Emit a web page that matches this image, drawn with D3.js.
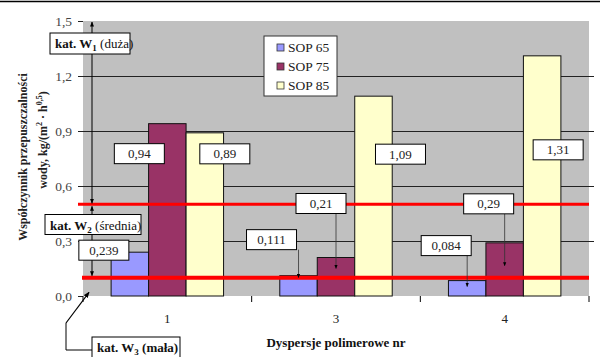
<!DOCTYPE html>
<html><head><meta charset="utf-8">
<script src="https://cdn.jsdelivr.net/npm/d3@7"></script>
<style>body{margin:0;background:#fff}svg{display:block}svg text{font-family:"Liberation Serif","Tinos","Times New Roman","DejaVu Serif",serif !important}</style>
</head><body><svg id="c" width="600" height="357"></svg>
<script>
const categories = ["1","3","4"];
const series = ["SOP 65","SOP 75","SOP 85"];
const sop65 = [0.239, 0.111, 0.084];
const sop75 = [0.94, 0.21, 0.29];
const sop85 = [0.89, 1.09, 1.31];
const labels65 = ["0,239","0,111","0,084"];
const labels75 = ["0,94","0,21","0,29"];
const labels85 = ["0,89","1,09","1,31"];
const yTicks = [0, 0.3, 0.6, 0.9, 1.2, 1.5];
const yTickLabels = ["0,0","0,3","0,6","0,9","1,2","1,5"];
const limits = [0.5, 0.1];
const colors = ["#9999FF","#993366","#FFFFCC"];

// label placement (offsets from bar top-centre, px) and arrow tip depth
const labelOffsets = [
  [[-26,-2,null],[-28,30,null],[20,21,null]],
  [[-27,-36,2],[-15,-54,11],[27,58,null]],
  [[-21,-35,6],[-16,-39,23],[16,94,null]]
];

const FONT = "'Liberation Serif','Tinos','Times New Roman','DejaVu Serif',serif";
const svg = d3.select("#c");
const L = 83, R = 589, T = 21, B = 296;
const x0 = d3.scaleBand().domain(categories).range([L,R]).padding(0);
const x1 = d3.scaleBand().domain(series).range([0,x0.bandwidth()]).paddingInner(0).paddingOuter(0.75);
const y = d3.scaleLinear().domain([0,1.5]).range([B,T]);

svg.append("line").attr("x1",0).attr("x2",600).attr("y1",1.5).attr("y2",1.5).attr("stroke","#000").attr("stroke-width",1.5);

const defs = svg.append("defs");
defs.append("marker").attr("id","ah").attr("viewBox","0 0 10 10").attr("refX",9).attr("refY",5)
  .attr("markerWidth",5).attr("markerHeight",5).attr("orient","auto-start-reverse")
  .append("path").attr("d","M0,1 L10,5 L0,9 z").attr("fill","#000");

svg.append("rect").attr("x",L).attr("y",T).attr("width",R-L).attr("height",B-T).attr("fill","#C0C0C0");

// gridlines / ticks
const yAxis = d3.axisLeft(y).tickValues(yTicks).tickFormat((d,i)=>yTickLabels[i]).tickSize(-(R-L+5)).tickPadding(6);
const ga = svg.append("g").attr("transform",`translate(${L-5},0)`).call(yAxis).attr("font-family",FONT);
ga.select(".domain").remove();
ga.selectAll(".tick line").attr("transform","translate(5,0)").attr("x1",-5).attr("stroke","#222");
ga.selectAll(".tick").filter(d=>d===0||d===1.5).select("line").attr("x2",0);
ga.selectAll(".tick text").attr("font-size",13.5).attr("fill","#444").attr("font-family",FONT);

// x ticks
const xt = [...categories.map(c=>x0(c)), R];
svg.selectAll(".xt").data(xt).enter().append("line").attr("x1",d=>d).attr("x2",d=>d).attr("y1",B).attr("y2",B+6).attr("stroke","#000");
svg.selectAll(".xl").data(categories).enter().append("text").attr("x",d=>x0(d)+x0.bandwidth()/2).attr("y",323)
  .attr("text-anchor","middle").attr("font-size",13).attr("fill","#222").attr("font-family",FONT).text(d=>d);
svg.append("text").attr("x",(L+R)/2).attr("y",347).attr("text-anchor","middle").attr("font-size",13).attr("font-weight","bold").attr("fill","#111").attr("font-family",FONT).text("Dyspersje polimerowe nr");

// bars
const vals = [sop65, sop75, sop85];
const labs = [labels65, labels75, labels85];
const bars = [];
categories.forEach((c,ci)=>{
  series.forEach((s,si)=>{
    bars.push({c,ci,s,si,v:vals[si][ci],lab:labs[si][ci]});
  });
});
svg.selectAll(".bar").data(bars).enter().append("rect")
  .attr("x",d=>x0(d.c)+x1(d.s)).attr("width",x1.bandwidth())
  .attr("y",d=>y(d.v)).attr("height",d=>B-y(d.v))
  .attr("fill",d=>colors[d.si]).attr("stroke","#111").attr("stroke-width",1);

// limit lines
svg.append("line").attr("x1",78).attr("x2",R).attr("y1",y(limits[0])).attr("y2",y(limits[0])).attr("stroke","#FF0000").attr("stroke-width",3);
svg.append("line").attr("x1",82).attr("x2",R).attr("y1",y(limits[1])).attr("y2",y(limits[1])).attr("stroke","#FF0000").attr("stroke-width",4);

// category arrows
const ax = 92;
svg.append("line").attr("x1",ax).attr("x2",ax).attr("y1",y(1.5)+1).attr("y2",y(limits[0])-1).attr("stroke","#000")
  .attr("marker-start","url(#ah)").attr("marker-end","url(#ah)");
svg.append("line").attr("x1",ax).attr("x2",ax).attr("y1",y(limits[0])+2).attr("y2",y(limits[1])-2).attr("stroke","#000")
  .attr("marker-start","url(#ah)").attr("marker-end","url(#ah)");
svg.append("line").attr("x1",66).attr("y1",323).attr("x2",89).attr("y2",y(0.02)).attr("stroke","#000").attr("stroke-width",1.2).attr("marker-end","url(#ah)");
svg.append("polyline").attr("points","66,323 66,350 92,350").attr("fill","none").attr("stroke","#000");

// data labels
bars.forEach(d=>{
  const off = labelOffsets[d.ci][d.si];
  const bx = x0(d.c)+x1(d.s)+x1.bandwidth()/2;
  const by = y(d.v);
  const cx = bx+off[0], cy = by+off[1];
  const w = 50, h = 20;
  if(off[2]!==null){
    svg.append("line").attr("x1",bx).attr("x2",bx).attr("y1",cy+h/2).attr("y2",by+off[2]).attr("stroke","#333").attr("stroke-width",0.8).attr("marker-end","url(#ah)");
  }
  svg.append("rect").attr("x",cx-w/2).attr("y",cy-h/2).attr("width",w).attr("height",h).attr("fill","#fff").attr("stroke","#000");
  svg.append("text").attr("x",cx).attr("y",cy+4.5).attr("text-anchor","middle").attr("font-size",13).attr("fill","#222").attr("font-family",FONT).text(d.lab);
});

// category boxes
function catBox(x,yTop,w,h,sub,rest,restBold){
  svg.append("rect").attr("x",x).attr("y",yTop).attr("width",w).attr("height",h).attr("fill","#fff").attr("stroke","#000");
  const t = svg.append("text").attr("x",x+5).attr("y",yTop+15).attr("font-size",13).attr("fill","#111").attr("font-family",FONT);
  t.append("tspan").attr("font-weight","bold").text("kat. W");
  t.append("tspan").attr("font-size",9).attr("dy",3).attr("font-weight","bold").text(sub);
  t.append("tspan").attr("dy",-3).attr("font-weight",restBold?"bold":"normal").text(" "+rest);
}
catBox(50, y(1.38)-10, 80, 21, "1", "(duża)", false);
catBox(45, y(0.39)-10, 96, 20, "2", "(średnia)", false);
catBox(92, 337, 88, 24, "3", "(mała)", true);

// legend
const lg = svg.append("g").attr("transform","translate(264,36)");
lg.append("rect").attr("width",73).attr("height",60).attr("fill","#fff").attr("stroke","#333");
series.forEach((s,i)=>{
  lg.append("rect").attr("x",13).attr("y",8+i*19).attr("width",7).attr("height",7).attr("fill",colors[i]).attr("stroke","#333").attr("stroke-width",0.8);
  lg.append("text").attr("x",24).attr("y",16+i*19).attr("font-size",13.5).attr("fill","#222").attr("font-family",FONT).text(s);
});

// y title
const yt = svg.append("g");
yt.append("text").attr("transform","translate(27,157) rotate(-90)").attr("text-anchor","middle").attr("font-size",12).attr("font-weight","bold").attr("fill","#222").attr("font-family",FONT)
  .text("Współczynnik przepuszczalności");
const t2 = yt.append("text").attr("transform","translate(47,140) rotate(-90)").attr("text-anchor","middle").attr("font-size",12).attr("font-weight","bold").attr("fill","#222").attr("font-family",FONT);
t2.append("tspan").text("wody, kg/(m");
t2.append("tspan").attr("font-size",8).attr("dy",-5).text("2");
t2.append("tspan").attr("dy",5).text(" · h");
t2.append("tspan").attr("font-size",8).attr("dy",-5).text("0,5");
t2.append("tspan").attr("dy",5).text(")");
</script></body></html>
